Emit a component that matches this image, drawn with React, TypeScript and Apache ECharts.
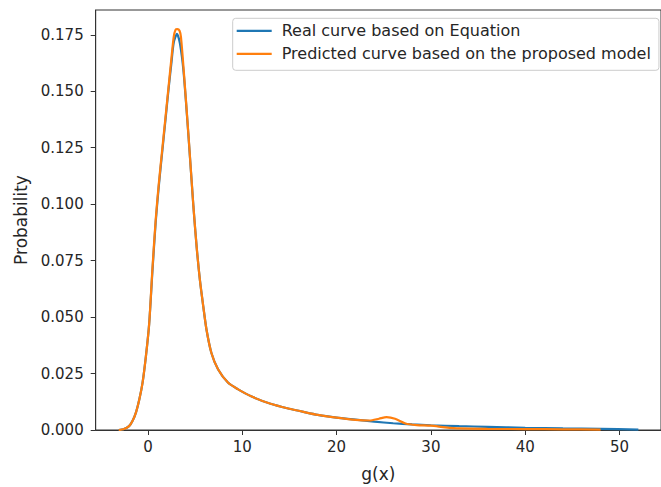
import React, { useEffect, useRef } from "react";
import * as echarts from "echarts";

const seriesNames = [
  "Real curve based on Equation",
  "Predicted curve based on the proposed model",
];

const realX = [
  -3.1, -2.6, -2.0, -1.6, -1.25, -0.9, -0.57, -0.22, 0.13, 0.47, 0.82, 1.15, 1.51, 1.85,
  2.21, 2.5, 2.73, 3.08, 3.4, 3.78, 4.3, 4.82, 5.17, 5.52, 5.87, 6.21, 6.73, 7.43, 8.48,
  9.52, 11, 13, 15, 16.5, 18, 20, 22, 24, 26, 28, 30, 33, 36, 40, 44, 48, 52,
];
const realY = [
  0, 0.0003, 0.0017, 0.0043, 0.008, 0.0138, 0.021, 0.0325, 0.047, 0.07, 0.092, 0.108,
  0.123, 0.137, 0.152, 0.163, 0.1715, 0.1754, 0.171, 0.1585, 0.13, 0.099, 0.0808, 0.066,
  0.0546, 0.0444, 0.0341, 0.0269, 0.021, 0.0181, 0.0148, 0.0116, 0.0094, 0.008, 0.0067,
  0.0055, 0.0046, 0.0037, 0.003, 0.0025, 0.0021, 0.0017, 0.0014, 0.001, 0.0007, 0.0005,
  0.0002,
];

const predX = [
  -3.1, -2.6, -2.0, -1.6, -1.25, -0.9, -0.57, -0.22, 0.13, 0.47, 0.82, 1.15, 1.51, 1.85,
  2.21, 2.5, 2.73, 2.92, 3.12, 3.35, 3.5, 3.78, 4.3, 4.82, 5.17, 5.52, 5.87, 6.21, 6.73,
  7.43, 8.48, 9.52, 11, 13, 15, 16.5, 18, 20, 22, 23.5, 24.5, 25.3, 26.2, 27.3, 28.5, 30,
  31.5, 33, 36, 40, 44, 48,
];
const predY = [
  0, 0.0003, 0.0017, 0.0043, 0.008, 0.0138, 0.021, 0.0325, 0.047, 0.071, 0.093, 0.109,
  0.124, 0.138, 0.153, 0.165, 0.174, 0.1772, 0.1775, 0.1768, 0.174, 0.16, 0.1304, 0.099,
  0.0808, 0.066, 0.0546, 0.0444, 0.0341, 0.0269, 0.021, 0.0181, 0.0148, 0.0116, 0.0094,
  0.008, 0.0067, 0.0055, 0.0045, 0.0042, 0.005, 0.0057, 0.005, 0.0029, 0.0022, 0.0019,
  0.0012, 0.0007, 0.0005, 0.0004, 0.0003, 0.0002,
];

const xTicks = [0, 10, 20, 30, 40, 50];
const yTicks = [0, 0.025, 0.05, 0.075, 0.1, 0.125, 0.15, 0.175];
const xLabel = "g(x)";
const yLabel = "Probability";

const FONT = "DejaVu Sans";
const AX = "#333333";

export default function App() {
  const ref = useRef<HTMLDivElement>(null);
  useEffect(() => {
    document.body.style.margin = "0";
    if (!ref.current) return;
    const chart = echarts.init(ref.current, null, { renderer: "svg" });
    const pair = (xs: number[], ys: number[]) => xs.map((x, i) => [x, ys[i]]);
    chart.setOption({
      animation: false,
      backgroundColor: "#ffffff",
      textStyle: { fontFamily: FONT },
      grid: {
        left: 95.7,
        right: -9,
        top: 10,
        bottom: 52.5,
        show: true,
        borderColor: AX,
        borderWidth: 1,
      },
      legend: {
        orient: "vertical",
        left: 232.7,
        top: 18.3,
        padding: [4, 8, 8, 4],
        itemWidth: 35,
        itemHeight: 2.2,
        itemGap: 6,
        icon: "rect",
        borderColor: "#cccccc",
        borderWidth: 1,
        borderRadius: 3,
        backgroundColor: "rgba(255,255,255,0.8)",
        textStyle: {
          fontFamily: FONT,
          fontSize: 16,
          lineHeight: 17,
          color: "#262626",
          padding: [0, 0, 0, 5],
        },
        data: seriesNames,
      },
      xAxis: {
        type: "value",
        min: -5.54,
        max: 54.4,
        name: xLabel,
        nameLocation: "middle",
        nameGap: 35,
        nameTextStyle: { fontFamily: FONT, fontSize: 17, color: "#262626" },
        axisLine: { show: true, onZero: false, lineStyle: { color: AX, width: 1 } },
        axisTick: { show: true, length: 5, lineStyle: { color: AX }, customValues: xTicks },
        axisLabel: {
          customValues: xTicks,
          margin: 9,
          fontFamily: FONT,
          fontSize: 15,
          color: "#262626",
          formatter: (v: number) => String(v),
        },
        splitLine: { show: false },
      },
      yAxis: {
        type: "value",
        min: 0,
        max: 0.186,
        name: yLabel,
        nameLocation: "middle",
        nameGap: 59,
        nameTextStyle: { fontFamily: FONT, fontSize: 17, color: "#262626" },
        axisLine: { show: true, onZero: false, lineStyle: { color: AX, width: 1 } },
        axisTick: { show: true, length: 5, lineStyle: { color: AX }, customValues: yTicks },
        axisLabel: {
          customValues: yTicks,
          margin: 12,
          fontFamily: FONT,
          fontSize: 15,
          color: "#262626",
          formatter: (v: number) => v.toFixed(3),
        },
        splitLine: { show: false },
      },
      series: [
        {
          name: seriesNames[0],
          type: "line",
          data: pair(realX, realY),
          symbol: "none",
          smooth: 0.25,
          lineStyle: { color: "#1f77b4", width: 2.2 },
          itemStyle: { color: "#1f77b4" },
          z: 2,
        },
        {
          name: seriesNames[1],
          type: "line",
          data: pair(predX, predY),
          symbol: "none",
          smooth: 0.25,
          lineStyle: { color: "#ff7f0e", width: 2.2 },
          itemStyle: { color: "#ff7f0e" },
          z: 3,
        },
      ],
    });
    return () => chart.dispose();
  }, []);
  return <div ref={ref} style={{ width: 661, height: 487 }} />;
}
